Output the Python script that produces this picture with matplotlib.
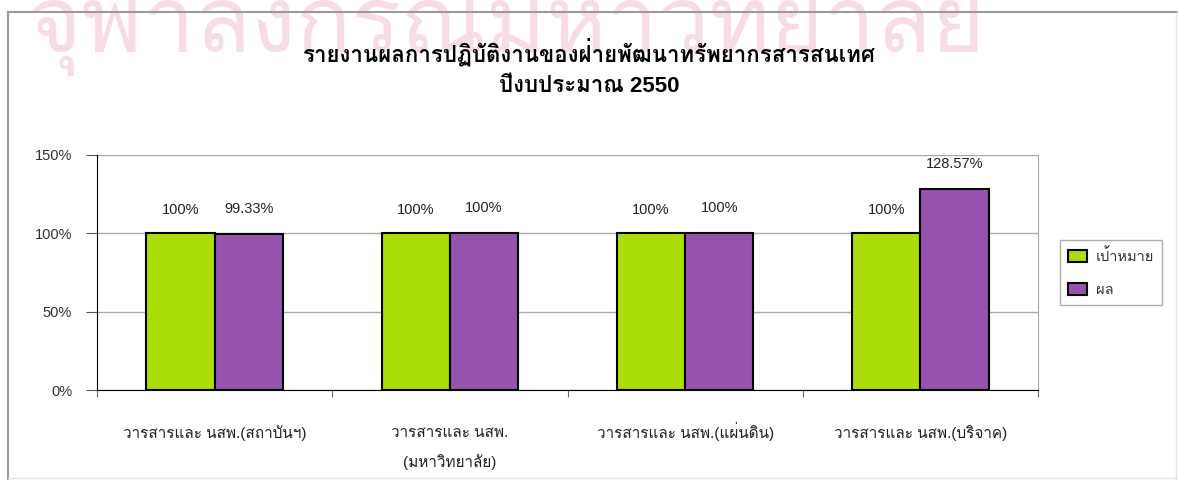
import matplotlib
matplotlib.use("Agg")
from matplotlib import pyplot as plt
from matplotlib import font_manager
from matplotlib.ft2font import FT2Font
from matplotlib.lines import Line2D
import numpy as np

categories = ["วารสารและ นสพ.(สถาบันฯ)", "วารสารและ นสพ.\n(มหาวิทยาลัย)",
              "วารสารและ นสพ.(แผ่นดิน)", "วารสารและ นสพ.(บริจาค)"]
target = [100, 100, 100, 100]
result = [99.33, 100, 100, 128.57]
target_labels = ["100%", "100%", "100%", "100%"]
result_labels = ["99.33%", "100%", "100%", "128.57%"]
series_names = ["เป้าหมาย", "ผล"]
title1 = "รายงานผลการปฏิบัติงานของฝ่ายพัฒนาทรัพยากรสารสนเทศ"
title2 = "ปีงบประมาณ 2550"
watermark = "จุฬาลงกรณ์มหาวิทยาลัย"


# find any installed font that has Thai glyphs
def find_thai_font():
    for f in font_manager.fontManager.ttflist:
        try:
            if 0x0E01 in FT2Font(f.fname).get_charmap():
                return f.name
        except Exception:
            pass
    return None


thai = find_thai_font()
fams = ["Liberation Sans"] + ([thai] if thai else []) + ["DejaVu Sans"]
plt.rcParams["font.family"] = fams

green = "#abde06"
purple = "#9653ad"

fig = plt.figure(figsize=(11.78, 4.8), dpi=100)

# chart frame: strong top/left, faint right/bottom
W, H = 1178, 480
fr = fig.transFigure
fig.add_artist(Line2D([8 / W, 1177 / W], [1 - 12 / H, 1 - 12 / H], transform=fr, color="#9a9a9a", lw=1.5))
fig.add_artist(Line2D([8 / W, 8 / W], [1 - 12 / H, 0], transform=fr, color="#9a9a9a", lw=1.5))
fig.add_artist(Line2D([1176 / W, 1176 / W], [1 - 12 / H, 0], transform=fr, color="#e4e4e4", lw=1))
fig.add_artist(Line2D([8 / W, 1177 / W], [2 / H, 2 / H], transform=fr, color="#e4e4e4", lw=1))

# faint watermark at top
fig.text(0.43, 1 - 52 / H, watermark, ha="center", va="baseline", fontsize=66,
         color="#f7dce7", zorder=0)

ax = fig.add_axes([97 / W, 1 - 390 / H, 941 / W, 235 / H])
x = np.arange(len(categories))
w = 0.29
ax.bar(x - w / 2, target, w, color=green, edgecolor="black", lw=1.5,
       label=series_names[0], zorder=3)
ax.bar(x + w / 2, result, w, color=purple, edgecolor="black", lw=1.5,
       label=series_names[1], zorder=3)

for i in range(len(x)):
    ax.annotate(target_labels[i], (x[i] - w / 2, target[i]), xytext=(0, 17),
                textcoords="offset points", ha="center", va="center",
                fontsize=10.5, color="#222222")
    ax.annotate(result_labels[i], (x[i] + w / 2, result[i]), xytext=(0, 18),
                textcoords="offset points", ha="center", va="center",
                fontsize=10.5, color="#222222")

# category names under each group, baseline aligned (last line for 2-line names)
for i, name in enumerate(categories):
    nlines = name.count("\n")
    ax.annotate(name, (x[i], 0), xycoords=("data", "axes fraction"),
                xytext=(0, -34.5 - 21 * nlines), textcoords="offset points",
                ha="center", va="baseline", fontsize=11, linespacing=2.1,
                color="#222222")

ax.set_ylim(0, 150)
ax.set_yticks([0, 50, 100, 150])
ax.set_yticklabels(["0%", "50%", "100%", "150%"], fontsize=10.5, color="#333333")
ax.set_xlim(-0.5, 3.5)
ax.set_xticks(np.arange(-0.5, 4, 1))
ax.set_xticklabels([])
ax.tick_params(axis="x", length=5, direction="out", color="#666666")
ax.tick_params(axis="y", length=8, direction="out", color="#555555", pad=10)
ax.yaxis.grid(True, color="#aaaaaa", lw=1, zorder=0)
ax.set_axisbelow(True)
ax.spines["top"].set_visible(False)
ax.spines["right"].set_color("#aaaaaa")
ax.spines["left"].set_color("black")
ax.spines["bottom"].set_color("black")

fig.text(0.50, 1 - 52 / H, title1, ha="center", va="center", fontsize=16,
         fontweight="bold")
fig.text(0.50, 1 - 86 / H, title2, ha="center", va="center", fontsize=16,
         fontweight="bold")

fig.legend(loc="upper left", bbox_to_anchor=(1060 / W, 1 - 240 / H),
           borderaxespad=0, frameon=True, fancybox=False, edgecolor="#999999",
           fontsize=10.5, handlelength=1.3, handleheight=0.9, labelspacing=1.3,
           borderpad=0.55, handletextpad=0.6, labelcolor="#333333")

plt.savefig("out.png", dpi=100)
